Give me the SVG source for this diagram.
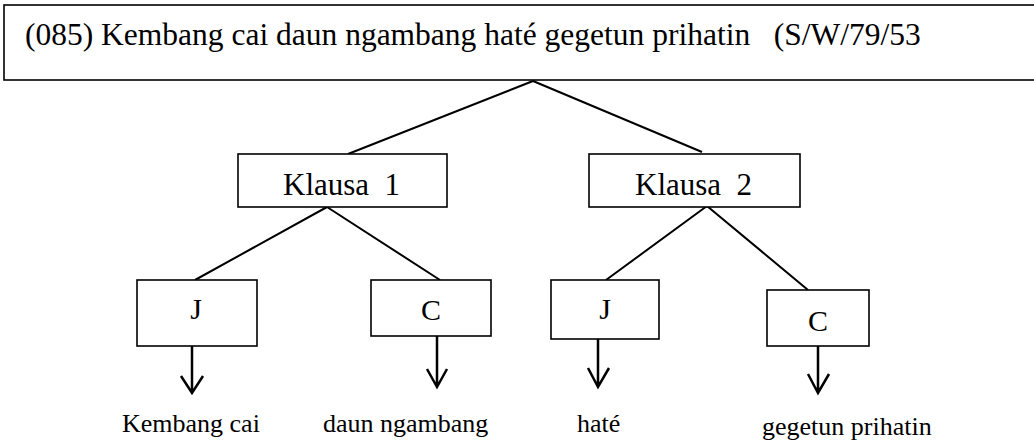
<svg xmlns="http://www.w3.org/2000/svg" width="1034" height="441" viewBox="0 0 1034 441">
<style>
.box{fill:#fff;stroke:#000;stroke-width:1.6}
.t{font-family:"Liberation Serif","Times New Roman",serif;fill:#000;white-space:pre}
.ln{stroke:#000;stroke-width:2;fill:none}
.ar{stroke:#000;stroke-width:2.5;fill:none}
</style>
<rect width="1034" height="441" fill="#fff"/>
<g id="title">
<rect class="box" x="4" y="5" width="1040" height="75"/>
<text class="t" x="25" y="45" font-size="31.5">(085) Kembang cai daun ngambang haté gegetun prihatin   (S/W/79/53</text>
</g>
<g id="connectors">
<path class="ln" d="M533 81 L348 154 M533 81 L702 152"/>
<path class="ln" d="M327 207 L195 280 M327 207 L440 280"/>
<path class="ln" d="M707 206 L606 280 M707 206 L808 290"/>
<path class="ar" d="M192 346 V393 M181 376 L192 393 L203 376"/>
<path class="ar" d="M437 336 V387 M427 369 L437 387 L447 369"/>
<path class="ar" d="M598 339 V387 M588 368 L598 387 L609 368"/>
<path class="ar" d="M818 346 V393 M808 374 L818 393 L829 374"/>
</g>
<g id="klausa1">
<rect class="box" x="238" y="154" width="209" height="53"/>
<text class="t" x="283" y="195" font-size="31">Klausa  1</text>
</g>
<g id="klausa2">
<rect class="box" x="589" y="154" width="211" height="53"/>
<text class="t" x="635" y="195" font-size="31">Klausa  2</text>
</g>
<g id="j1">
<rect class="box" x="137" y="280" width="120" height="66"/>
<text class="t" x="196" y="319" font-size="30" text-anchor="middle">J</text>
</g>
<g id="c1">
<rect class="box" x="371" y="280" width="120" height="56"/>
<text class="t" x="431" y="320" font-size="30" text-anchor="middle">C</text>
</g>
<g id="j2">
<rect class="box" x="551" y="280" width="108" height="59"/>
<text class="t" x="605" y="319" font-size="30" text-anchor="middle">J</text>
</g>
<g id="c2">
<rect class="box" x="767" y="290" width="102" height="56"/>
<text class="t" x="818" y="331" font-size="30" text-anchor="middle">C</text>
</g>
<g id="labels">
<text class="t" x="122" y="432" font-size="26">Kembang cai</text>
<text class="t" x="323" y="432" font-size="26">daun ngambang</text>
<text class="t" x="577" y="432" font-size="26">haté</text>
<text class="t" x="762" y="435" font-size="26">gegetun prihatin</text>
</g>
</svg>
